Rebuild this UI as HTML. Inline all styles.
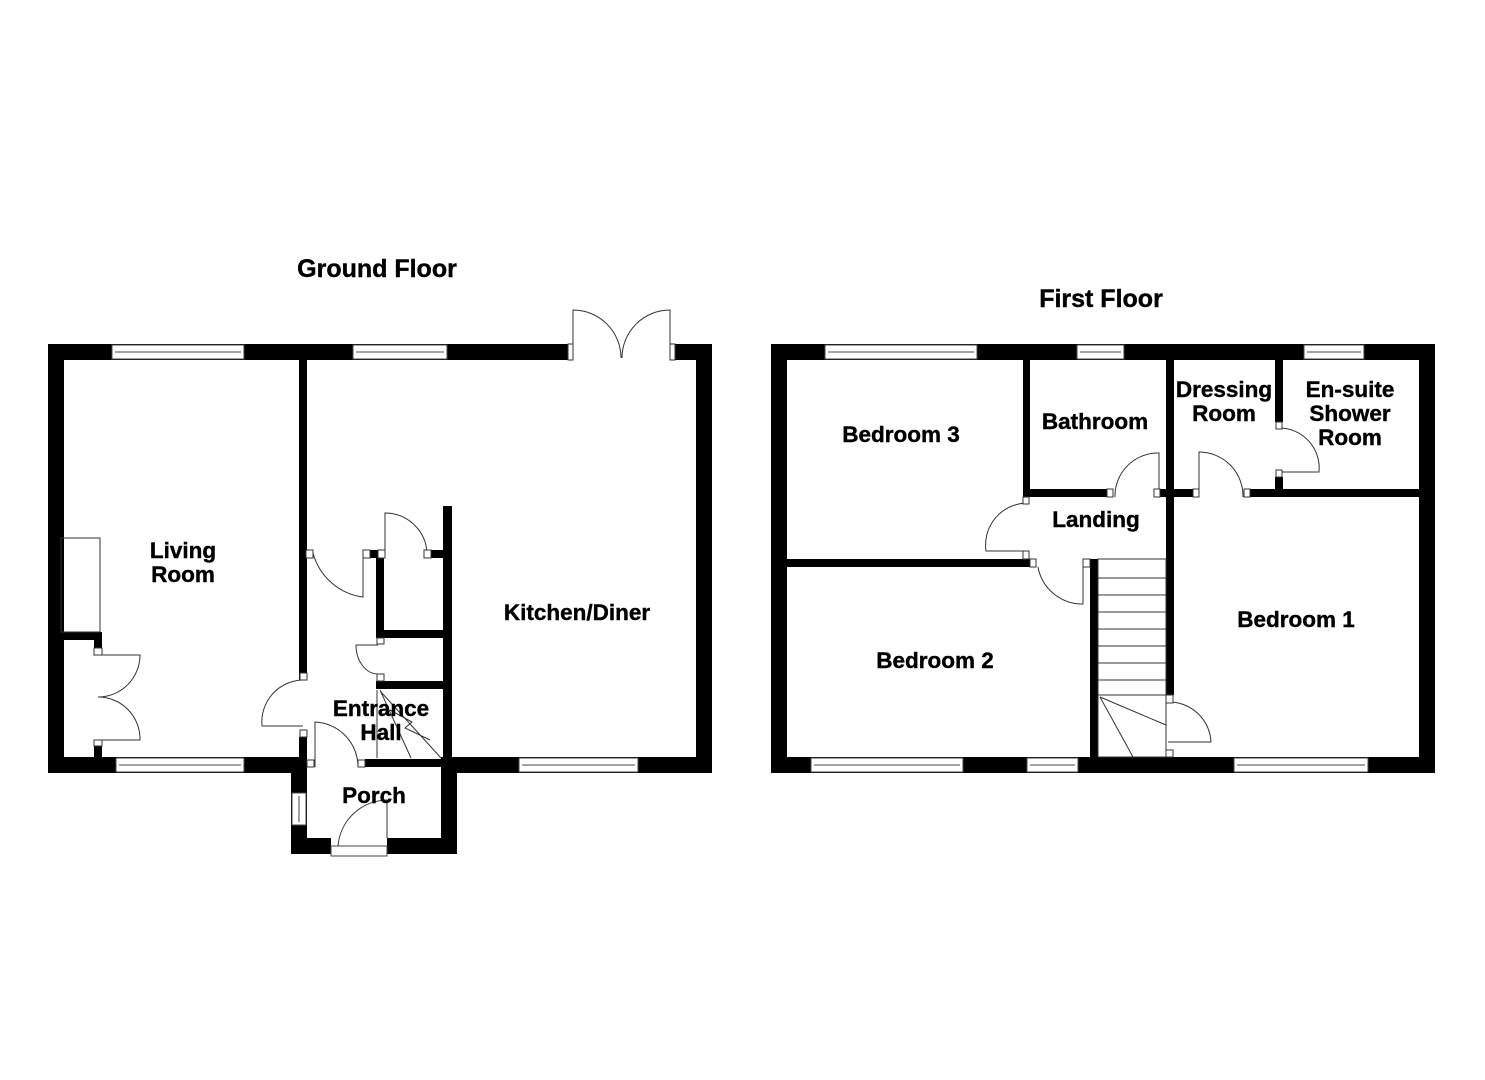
<!DOCTYPE html>
<html><head><meta charset="utf-8"><style>
html,body{margin:0;padding:0;background:#fff;}
svg{display:block}
text{font-family:"Liberation Sans",Arial,sans-serif;font-weight:bold;fill:#000;text-anchor:middle;stroke:#000;stroke-width:0.4}
</style></head><body>
<svg width="1485" height="1080" viewBox="0 0 1485 1080" xmlns="http://www.w3.org/2000/svg">
<g fill="#000">
<rect x="48" y="344" width="520" height="16"/>
<rect x="674" y="344" width="38" height="16"/>
<rect x="48" y="344" width="16" height="429"/>
<rect x="696" y="344" width="16" height="429"/>
<rect x="48" y="757" width="258" height="16"/>
<rect x="441" y="757" width="271" height="16"/>
<rect x="365" y="759" width="86" height="8"/>
<rect x="299" y="360" width="8" height="320"/>
<rect x="299" y="737" width="8" height="25"/>
<rect x="291" y="757" width="16" height="97"/>
<rect x="291" y="838" width="40" height="16"/>
<rect x="387" y="838" width="69" height="16"/>
<rect x="441" y="757" width="16" height="97"/>
<rect x="443" y="506" width="9" height="261"/>
<rect x="430" y="550" width="18" height="8"/>
<rect x="376" y="555" width="8" height="81"/>
<rect x="376" y="630" width="70" height="8"/>
<rect x="376" y="681" width="70" height="8"/>
<rect x="370" y="550" width="10" height="8"/>
<rect x="48" y="632" width="52" height="8"/>
<rect x="94" y="632" width="8" height="16"/>
<rect x="94" y="745" width="8" height="14"/>

<rect x="771" y="344" width="664" height="16"/>
<rect x="771" y="344" width="16" height="429"/>
<rect x="1419" y="344" width="16" height="429"/>
<rect x="771" y="757" width="664" height="16"/>
<rect x="1023" y="360" width="7" height="137"/>
<rect x="1023" y="489" width="84" height="8"/>
<rect x="1160" y="489" width="33" height="8"/>
<rect x="1250" y="489" width="170" height="8"/>
<rect x="1166" y="360" width="8" height="335"/>
<rect x="1275" y="360" width="8" height="62"/>
<rect x="1275" y="477" width="8" height="20"/>
<rect x="787" y="559" width="243" height="8"/>
<rect x="1090" y="559" width="8" height="200"/>
</g>

<g fill="#fff" stroke="#444" stroke-width="1">
<rect x="112" y="345" width="132" height="14"/><line x1="115" y1="352" x2="241" y2="352"/>
<rect x="353" y="345" width="94" height="14"/><line x1="356" y1="352" x2="444" y2="352"/>
<rect x="116" y="758" width="128" height="14"/><line x1="119" y1="765" x2="241" y2="765"/>
<rect x="519" y="758" width="119" height="14"/><line x1="522" y1="765" x2="635" y2="765"/>
<rect x="292" y="793" width="14" height="32"/><line x1="299" y1="796" x2="299" y2="822"/>
<rect x="331" y="846" width="56" height="10"/>
<rect x="825" y="345" width="152" height="14"/><line x1="828" y1="352" x2="974" y2="352"/>
<rect x="1077" y="345" width="47" height="14"/><line x1="1080" y1="352" x2="1121" y2="352"/>
<rect x="1304" y="345" width="60" height="14"/><line x1="1307" y1="352" x2="1361" y2="352"/>
<rect x="811" y="758" width="152" height="14"/><line x1="814" y1="765" x2="960" y2="765"/>
<rect x="1027" y="758" width="51" height="14"/><line x1="1030" y1="765" x2="1075" y2="765"/>
<rect x="1234" y="758" width="134" height="14"/><line x1="1237" y1="765" x2="1365" y2="765"/>
</g>

<g fill="none" stroke="#333" stroke-width="1">
<rect x="568" y="344" width="5" height="16" fill="#fff"/>
<rect x="670" y="344" width="5" height="16" fill="#fff"/>
<path d="M573 352 L573 310 A48 48 0 0 1 621 358"/>
<path d="M670 352 L670 310 A48 48 0 0 0 622 358"/>
<path d="M98 655 L140 655 A42 42 0 0 1 98 697"/>
<path d="M98 740 L140 740 A42 42 0 0 0 98 697"/>
<rect x="61" y="538" width="39" height="94"/>
<path d="M303 680 A42 42 0 0 0 262 726 L303 726"/>
<path d="M315 767 L315 722 A45 45 0 0 1 358 767"/>
<path d="M313 553 A60 60 0 0 0 363 597 L363 553"/>
<path d="M385 553 L385 513 A42 42 0 0 1 427 553"/>
<path d="M378 645 L356 645 A22 29 0 0 0 378 674"/>
<path d="M377 690 L377 758 M380 690 L411 758 M381 692 L441 758 M390 710 L412 722 L405 728 L430 740"/>
<path d="M387 838 L387 800 A50 50 0 0 0 338 846"/>

<path d="M1027 503 A42 42 0 0 0 986 551 L1027 551"/>
<path d="M1038 567 A45 45 0 0 0 1083 604 L1083 567"/>
<path d="M1159 497 L1159 453 A43 43 0 0 0 1115 497"/>
<path d="M1199 497 L1199 452 A44 44 0 0 1 1243 497"/>
<path d="M1279 428 A40 40 0 0 1 1319 472 L1279 472"/>
<path d="M1168 702 A42 42 0 0 1 1211 742 L1168 742"/>
<rect x="1098" y="559" width="68" height="198"/>
<path d="M1098 578 H1166 M1098 595 H1166 M1098 612 H1166 M1098 629 H1166 M1098 646 H1166 M1098 663 H1166 M1098 680 H1166 M1098 695 H1166 M1100 697 L1166 725 M1100 697 L1133 757"/>
</g>
<g fill="#fff" stroke="#333" stroke-width="1">
<rect x="1166" y="695" width="7" height="8"/>
<rect x="1166" y="750" width="7" height="7"/>
<rect x="1023" y="497" width="6" height="7"/>
<rect x="1023" y="551" width="6" height="8"/>
<rect x="1030" y="559" width="6" height="8"/>
<rect x="1083" y="559" width="7" height="8"/>
<rect x="1107" y="489" width="6" height="8"/>
<rect x="1154" y="489" width="6" height="8"/>
<rect x="1193" y="489" width="6" height="8"/>
<rect x="1244" y="489" width="6" height="8"/>
<rect x="1276" y="422" width="6" height="7"/>
<rect x="1276" y="470" width="6" height="7"/>
<rect x="94" y="648" width="8" height="7"/>
<rect x="94" y="740" width="8" height="6"/>
<rect x="300" y="673" width="7" height="7"/>
<rect x="300" y="730" width="7" height="7"/>
<rect x="307" y="760" width="7" height="7"/>
<rect x="358" y="760" width="7" height="7"/>
<rect x="306" y="550" width="7" height="8"/>
<rect x="363" y="550" width="7" height="8"/>
<rect x="378" y="550" width="7" height="8"/>
<rect x="424" y="550" width="7" height="8"/>
<rect x="377" y="638" width="7" height="6"/>
<rect x="377" y="674" width="7" height="7"/>
</g>

<text x="377" y="277" font-size="25">Ground Floor</text>
<text x="1101" y="307" font-size="25">First Floor</text>
<g font-size="22.5">
<text x="183" y="558">Living</text><text x="183" y="582">Room</text>
<text x="577" y="620">Kitchen/Diner</text>
<text x="381" y="716">Entrance</text><text x="381" y="740">Hall</text>
<text x="374" y="803">Porch</text>
<text x="901" y="442">Bedroom 3</text>
<text x="1095" y="429">Bathroom</text>
<text x="1224" y="397">Dressing</text><text x="1224" y="421">Room</text>
<text x="1350" y="397">En-suite</text><text x="1350" y="421">Shower</text><text x="1350" y="445">Room</text>
<text x="1096" y="527">Landing</text>
<text x="935" y="668">Bedroom 2</text>
<text x="1296" y="627">Bedroom 1</text>
</g>
</svg>
</body></html>
